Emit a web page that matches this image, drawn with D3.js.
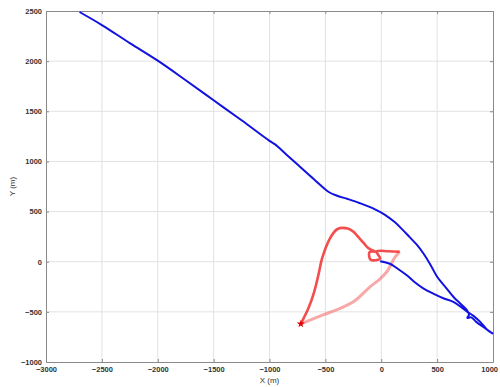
<!DOCTYPE html>
<html>
<head>
<meta charset="utf-8">
<script src="https://d3js.org/d3.v7.min.js"></script>
<style>
  body { margin: 0; background: #fff; }
  svg text { font-family: "Liberation Sans", Arial, sans-serif; fill: #333; }
</style>
</head>
<body>
<svg id="chart"></svg>
<script>
// tick values
var xTicks = [-3000, -2500, -2000, -1500, -1000, -500, 0, 500, 1000];
var yTicks = [-1000, -500, 0, 500, 1000, 1500, 2000, 2500];

// blue track
var blueX = [-2700, -2500, -2250, -2000, -1750, -1500, -1250, -1000, -950, -850, -730, -600, -470, -400, -300, -190, -60, 30, 120, 190, 250, 320, 376, 440, 500, 580, 645, 700, 765, 785, 770, 805, 850, 900, 950, 995,
             945, 890, 825, 765, 700, 645, 556, 470, 376, 300, 240, 160, 78, -10];
var blueY = [2490, 2360, 2180, 2005, 1810, 1610, 1410, 1205, 1170, 1070, 950, 820, 695, 660, 625, 583, 525, 470, 395, 320, 250, 167, 84, -30, -150, -260, -349, -410, -480, -530, -560, -555, -600, -640, -680, -715,
             -675, -605, -540, -495, -440, -400, -364, -320, -265, -205, -145, -80, -20, 5];

// red track: solid upper part, then faded return edge
var redX1 = [-720, -650, -600, -560, -530, -460, -400, -370, -300, -250, -220, -160, -120, -60, -40, -105, -95, -10, -40, 60, 165];
var redY1 = [-620, -460, -300, -120, 30, 230, 320, 335, 330, 300, 265, 190, 140, 105, 100, 95, 20, 30, 100, 105, 100];
var redX2 = [165, 120, 50, -20, -100, -250, -400, -520, -720];
var redY2 = [100, 40, -100, -180, -250, -400, -480, -530, -620];

var width = 500, height = 387;
var margin = {left: 46, right: 7, top: 11, bottom: 25};

var svg = d3.select("#chart")
    .attr("width", width)
    .attr("height", height);

var x = d3.scaleLinear().domain([-3000, 1000]).range([margin.left, width - margin.right]);
var y = d3.scaleLinear().domain([-1000, 2500]).range([height - margin.bottom, margin.top]);

// grid
svg.append("g").selectAll("line").data(xTicks.slice(1, -1)).enter().append("line")
    .attr("x1", d => x(d)).attr("x2", d => x(d))
    .attr("y1", y(-1000)).attr("y2", y(2500))
    .attr("stroke", "#e2e2e2").attr("stroke-width", 1);
svg.append("g").selectAll("line").data(yTicks.slice(1, -1)).enter().append("line")
    .attr("y1", d => y(d)).attr("y2", d => y(d))
    .attr("x1", x(-3000)).attr("x2", x(1000))
    .attr("stroke", "#e2e2e2").attr("stroke-width", 1);

// axes (ticks inside, matlab style)
var fmt = d3.format("d");
var xAxis = svg.append("g")
    .attr("transform", "translate(0," + y(-1000) + ")")
    .call(d3.axisBottom(x).tickValues(xTicks).tickFormat(fmt).tickSizeInner(-3).tickSizeOuter(0).tickPadding(6));
var yAxis = svg.append("g")
    .attr("transform", "translate(" + x(-3000) + ",0)")
    .call(d3.axisLeft(y).tickValues(yTicks).tickFormat(fmt).tickSizeInner(-3).tickSizeOuter(0).tickPadding(4));
svg.append("g")
    .attr("transform", "translate(0," + y(2500) + ")")
    .call(d3.axisTop(x).tickValues(xTicks).tickSizeInner(-3).tickSizeOuter(0).tickFormat(""));
svg.append("g")
    .attr("transform", "translate(" + x(1000) + ",0)")
    .call(d3.axisRight(y).tickValues(yTicks).tickSizeInner(-3).tickSizeOuter(0).tickFormat(""));

svg.selectAll(".domain").attr("stroke", "#8a8a8a");
svg.selectAll(".tick line").attr("stroke", "#8a8a8a");
svg.selectAll(".tick text").style("font-size", "7.5px").style("font-weight", "bold").attr("fill", "#444");
xAxis.selectAll(".tick text").attr("dy", "0.5em");
// the last x label hangs over the right edge, keep it inside
xAxis.selectAll(".tick text").filter(d => d === 1000).attr("text-anchor", "end").attr("dx", "0.6em");

// data lines
var line = d3.line().x(d => x(d[0])).y(d => y(d[1])).curve(d3.curveCatmullRom.alpha(0.5));

svg.append("path")
    .datum(redX2.map((v, i) => [v, redY2[i]]))
    .attr("d", line)
    .attr("fill", "none")
    .attr("stroke", "#f27070")
    .attr("stroke-opacity", 0.6)
    .attr("stroke-width", 3)
    .attr("stroke-linejoin", "round");

svg.append("path")
    .datum(redX1.map((v, i) => [v, redY1[i]]))
    .attr("d", line)
    .attr("fill", "none")
    .attr("stroke", "#f02020")
    .attr("stroke-opacity", 0.8)
    .attr("stroke-width", 2.6)
    .attr("stroke-linejoin", "round");

svg.append("path")
    .datum(blueX.map((v, i) => [v, blueY[i]]))
    .attr("d", line)
    .attr("fill", "none")
    .attr("stroke", "#1212e0")
    .attr("stroke-width", 2)
    .attr("stroke-linejoin", "round");

// start marker
svg.append("path")
    .attr("d", d3.symbol().type(d3.symbolStar).size(20))
    .attr("transform", "translate(" + x(redX1[0]) + "," + y(redY1[0]) + ")")
    .attr("fill", "#d00");

// axis labels
svg.append("text")
    .attr("x", x(-1000)).attr("y", 383)
    .attr("text-anchor", "middle")
    .style("font-size", "8px")
    .attr("fill", "#444")
    .text("X (m)");
svg.append("text")
    .attr("transform", "translate(15," + y(750) + ") rotate(-90)")
    .attr("text-anchor", "middle")
    .style("font-size", "8px")
    .attr("fill", "#444")
    .text("Y (m)");
</script>
</body>
</html>
